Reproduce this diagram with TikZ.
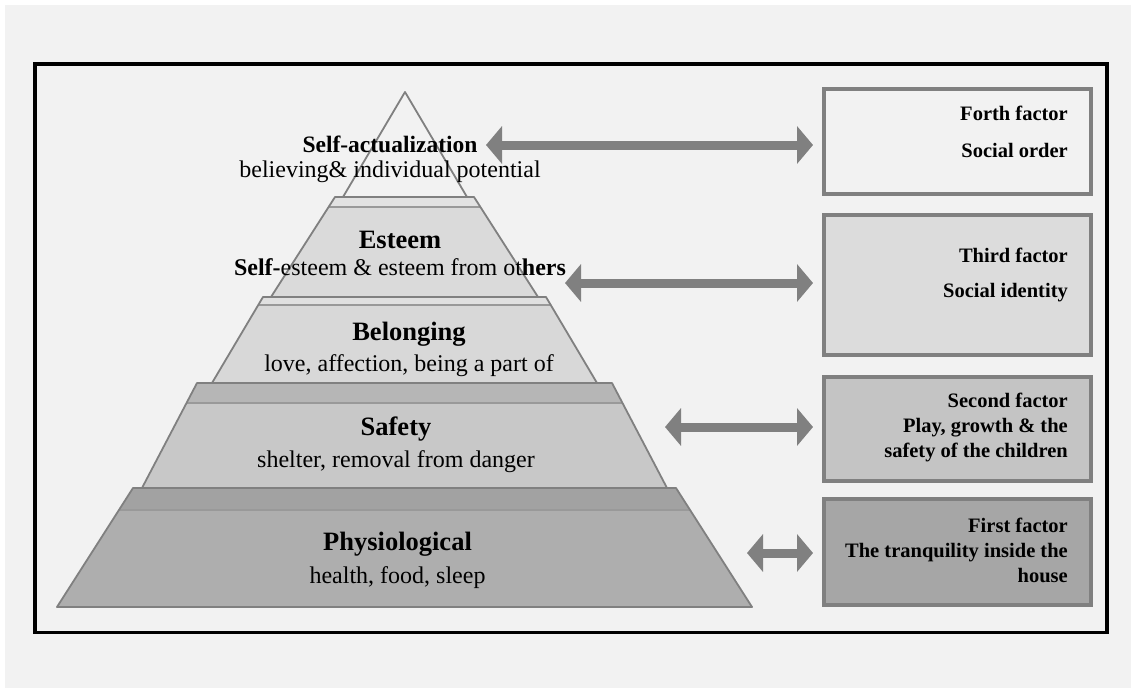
\documentclass[tikz,border=0pt]{standalone}
\usepackage{fontspec}
\setmainfont{Liberation Serif}
\usetikzlibrary{arrows.meta}
\definecolor{bgc}{HTML}{F2F2F2}
\definecolor{edge}{HTML}{808080}
\definecolor{arrc}{HTML}{808080}
\definecolor{topc}{HTML}{F2F2F2}
\definecolor{estc}{HTML}{DADADA}
\definecolor{estcap}{HTML}{E2E2E2}
\definecolor{belc}{HTML}{D8D8D8}
\definecolor{belcap}{HTML}{E0E0E0}
\definecolor{safc}{HTML}{C8C8C8}
\definecolor{safcap}{HTML}{B6B6B6}
\definecolor{phyc}{HTML}{AEAEAE}
\definecolor{phycap}{HTML}{A2A2A2}
\definecolor{boxa}{HTML}{F2F2F2}
\definecolor{boxb}{HTML}{DCDCDC}
\definecolor{boxc}{HTML}{C4C4C4}
\definecolor{boxd}{HTML}{A6A6A6}
\newcommand{\pyrtitle}{\fontsize{26.5}{30}\selectfont\bfseries}
\newcommand{\pyrsub}{\fontsize{24}{28}\selectfont}
\newcommand{\boxtxt}{\fontsize{20.5}{24}\selectfont\bfseries}
\begin{document}
\begin{tikzpicture}[x=1pt,y=-1pt,
  bandline/.style={draw=edge, line width=1.8pt, line join=round},
  capline/.style={draw=edge!80, line width=1.2pt},
  factorbox/.style={draw=edge, line width=4pt, minimum width=267pt, inner sep=0pt},
  lbl/.style={inner sep=0pt, anchor=base},
  rlbl/.style={inner sep=0pt, anchor=base east},
  dblarrow/.style={draw=arrc, line width=9pt,
    {Triangle[width=37pt,length=16pt]}-{Triangle[width=37pt,length=16pt]}}]
% background
\fill[white] (0,0) rectangle (1131,688);
\fill[bgc] (5,5) rectangle (1131,688);
\useasboundingbox (0,0) rectangle (1131,688);
\draw[line width=3.5pt] (35,64) rectangle (1107,632.5);

% Physiological band
\fill[phyc] (133,488) -- (676,488) -- (752,607) -- (57,607) -- cycle;
\fill[phycap] (133,488) -- (676,488) -- (690,510) -- (119,510) -- cycle;
\draw[capline] (119,510) -- (690,510);
\draw[bandline] (133,488) -- (676,488) -- (752,607) -- (57,607) -- cycle;
% Safety band
\fill[safc] (197,383) -- (612,383) -- (667,488) -- (142,488) -- cycle;
\fill[safcap] (197,383) -- (612,383) -- (622.5,403) -- (186.5,403) -- cycle;
\draw[capline] (186.5,403) -- (622.5,403);
\draw[bandline] (197,383) -- (612,383) -- (667,488) -- (142,488) -- cycle;
% Belonging band
\fill[belc] (263,297) -- (546,297) -- (597,383) -- (212,383) -- cycle;
\fill[belcap] (263,297) -- (546,297) -- (551,305) -- (258,305) -- cycle;
\draw[capline] (258,305) -- (551,305);
\draw[bandline] (263,297) -- (546,297) -- (597,383) -- (212,383) -- cycle;
% Esteem band
\fill[estc] (335,197) -- (474,197) -- (538,297) -- (271,297) -- cycle;
\fill[estcap] (335,197) -- (474,197) -- (480,207) -- (329,207) -- cycle;
\draw[capline] (329,207) -- (480,207);
\draw[bandline] (335,197) -- (474,197) -- (538,297) -- (271,297) -- cycle;
% Top triangle
\fill[topc] (405,92) -- (467,197) -- (343,197) -- cycle;
\draw[bandline] (405,92) -- (467,197) -- (343,197) -- cycle;

% pyramid labels
\node[lbl] (t5) at (390,152) {\fontsize{23.5}{28}\selectfont\bfseries Self-actualization};
\node[lbl] (s5) at (390,177) {\pyrsub believing\& individual potential};
\node[lbl] (t4) at (400,248) {\pyrtitle Esteem};
\node[lbl] (s4) at (400,275) {\pyrsub\textbf{Self-}esteem \& esteem from ot\textbf{hers}};
\node[lbl] (t3) at (409,340) {\pyrtitle Belonging};
\node[lbl] (s3) at (409,371) {\pyrsub love, affection, being a part of};
\node[lbl] (t2) at (396,435) {\pyrtitle Safety};
\node[lbl] (s2) at (396,467) {\pyrsub shelter, removal from danger};
\node[lbl] (t1) at (397.5,550) {\pyrtitle Physiological};
\node[lbl] (s1) at (397.5,583) {\pyrsub health, food, sleep};

% factor boxes
\node[factorbox, fill=boxa, minimum height=105pt] (b4) at (957.5,141.5) {};
\node[factorbox, fill=boxb, minimum height=140pt] (b3) at (957.5,285) {};
\node[factorbox, fill=boxc, minimum height=104pt] (b2) at (957.5,429) {};
\node[factorbox, fill=boxd, minimum height=106pt] (b1) at (957.5,552) {};

\node[rlbl] (f4a) at (1068,120) {\boxtxt Forth factor};
\node[rlbl] (f4b) at (1068,157) {\boxtxt Social order};
\node[rlbl] (f3a) at (1068,262) {\boxtxt Third factor};
\node[rlbl] (f3b) at (1068,297) {\boxtxt Social identity};
\node[rlbl] (f2a) at (1068,407) {\boxtxt Second factor};
\node[rlbl] (f2b) at (1068,432) {\boxtxt Play, growth \& the};
\node[rlbl] (f2c) at (1068,457) {\boxtxt safety of the children};
\node[rlbl] (f1a) at (1068,532) {\boxtxt First factor};
\node[rlbl] (f1b) at (1068,557) {\boxtxt The tranquility inside the};
\node[rlbl] (f1c) at (1068,582) {\boxtxt house};

% arrows
\coordinate (a4) at (486,145);
\coordinate (a3) at (565,283);
\coordinate (a2) at (665,427);
\coordinate (a1) at (747,553);
\draw[dblarrow, shorten >=9pt] (a4) -- (a4 -| b4.west);
\draw[dblarrow, shorten >=9pt] (a3) -- (a3 -| b3.west);
\draw[dblarrow, shorten >=9pt] (a2) -- (a2 -| b2.west);
\draw[dblarrow, shorten >=9pt] (a1) -- (a1 -| b1.west);
\end{tikzpicture}
\end{document}
